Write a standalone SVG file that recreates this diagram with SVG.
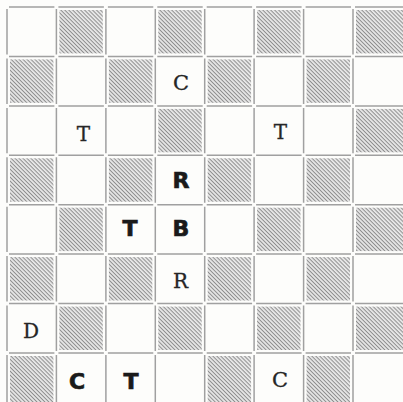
<svg xmlns="http://www.w3.org/2000/svg" xmlns:xlink="http://www.w3.org/1999/xlink" width="403" height="402" viewBox="0 0 403 402">
<style>
.grid{fill:none;stroke:#a0a0a0;stroke-width:1.5}
.dark{fill:url(#hatch)}
.w{font-family:"DejaVu Serif","Liberation Serif",serif;font-size:20px;fill:#262626;stroke:#262626;stroke-width:0.3;text-anchor:middle}
.wc{font-size:21px}
.b{font-family:"DejaVu Sans","Liberation Sans",sans-serif;font-weight:bold;font-size:22px;fill:#1a1a1a;stroke:#1a1a1a;stroke-width:0.7;text-anchor:middle}
</style>
<defs>
<pattern id="hatch" patternUnits="userSpaceOnUse" width="2.8" height="2.8" patternTransform="rotate(45)">
<rect width="2.8" height="2.8" fill="#e8e8e8"/>
<rect width="2.8" height="1" fill="#8e8e8e"/>
</pattern>
<path id="vl" d="M0 9V54.4M0 58.4V103.9M0 107.9V153.3M0 157.3V202.7M0 206.7V252.1M0 256.1V301.6M0 305.6V351M0 355V402"/>
<path id="hl" d="M9 0H54.4M58.4 0H103.9M107.9 0H153.3M157.3 0H202.7M206.7 0H252.1M256.1 0H301.6M305.6 0H351M355 0H403"/>
</defs>
<rect width="403" height="402" fill="#fdfdfb"/>
<g id="dark-squares">
<rect class="dark" x="59.4" y="10" width="43.4" height="43.4"/>
<rect class="dark" x="158.3" y="10" width="43.4" height="43.4"/>
<rect class="dark" x="257.1" y="10" width="43.4" height="43.4"/>
<rect class="dark" x="356" y="10" width="47" height="43.4"/>
<rect class="dark" x="10" y="59.4" width="43.4" height="43.4"/>
<rect class="dark" x="108.9" y="59.4" width="43.4" height="43.4"/>
<rect class="dark" x="207.7" y="59.4" width="43.4" height="43.4"/>
<rect class="dark" x="306.6" y="59.4" width="43.4" height="43.4"/>
<rect class="dark" x="158.3" y="108.9" width="43.4" height="43.4"/>
<rect class="dark" x="356" y="108.9" width="47" height="43.4"/>
<rect class="dark" x="10" y="158.3" width="43.4" height="43.4"/>
<rect class="dark" x="108.9" y="158.3" width="43.4" height="43.4"/>
<rect class="dark" x="207.7" y="158.3" width="43.4" height="43.4"/>
<rect class="dark" x="306.6" y="158.3" width="43.4" height="43.4"/>
<rect class="dark" x="59.4" y="207.7" width="43.4" height="43.4"/>
<rect class="dark" x="257.1" y="207.7" width="43.4" height="43.4"/>
<rect class="dark" x="356" y="207.7" width="47" height="43.4"/>
<rect class="dark" x="10" y="257.1" width="43.4" height="43.4"/>
<rect class="dark" x="108.9" y="257.1" width="43.4" height="43.4"/>
<rect class="dark" x="207.7" y="257.1" width="43.4" height="43.4"/>
<rect class="dark" x="306.6" y="257.1" width="43.4" height="43.4"/>
<rect class="dark" x="59.4" y="306.6" width="43.4" height="43.4"/>
<rect class="dark" x="158.3" y="306.6" width="43.4" height="43.4"/>
<rect class="dark" x="257.1" y="306.6" width="43.4" height="43.4"/>
<rect class="dark" x="356" y="306.6" width="47" height="43.4"/>
<rect class="dark" x="10" y="356" width="43.4" height="46"/>
<rect class="dark" x="207.7" y="356" width="43.4" height="46"/>
<rect class="dark" x="306.6" y="356" width="43.4" height="46"/>
</g>
<g id="grid" class="grid">
<use xlink:href="#vl" x="7"/>
<use xlink:href="#vl" x="56.4"/>
<use xlink:href="#vl" x="105.9"/>
<use xlink:href="#vl" x="155.3"/>
<use xlink:href="#vl" x="204.7"/>
<use xlink:href="#vl" x="254.1"/>
<use xlink:href="#vl" x="303.6"/>
<use xlink:href="#vl" x="353"/>
<use xlink:href="#hl" y="7"/>
<use xlink:href="#hl" y="56.4"/>
<use xlink:href="#hl" y="105.9"/>
<use xlink:href="#hl" y="155.3"/>
<use xlink:href="#hl" y="204.7"/>
<use xlink:href="#hl" y="254.1"/>
<use xlink:href="#hl" y="303.6"/>
<use xlink:href="#hl" y="353"/>
</g>
<g id="pieces">
<text class="w wc" x="181" y="90">C</text>
<text class="w" x="83.5" y="141">T</text>
<text class="w" x="280.5" y="139">T</text>
<text class="b" x="181" y="188">R</text>
<text class="b" x="130" y="236">T</text>
<text class="b" x="181" y="236">B</text>
<text class="w" x="180.5" y="288">R</text>
<text class="w" x="31" y="338">D</text>
<text class="b" x="77" y="389">C</text>
<text class="b" x="131" y="389">T</text>
<text class="w wc" x="280" y="387">C</text>
</g>
</svg>
